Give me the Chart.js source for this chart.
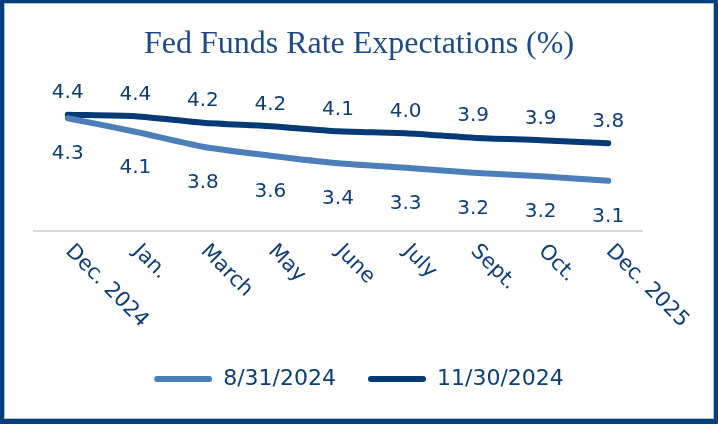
<!DOCTYPE html>
<html>
<head>
<meta charset="utf-8">
<script src="https://cdn.jsdelivr.net/npm/chart.js@4.4.1/dist/chart.umd.min.js"></script>
<style>
html,body{margin:0;padding:0;background:#fff;}
#wrap{position:relative;width:718px;height:424px;}
canvas{display:block;}
</style>
</head>
<body>
<div id="wrap"><canvas id="c" width="718" height="424"></canvas></div>
<script>
// ---- data ----
const categories = ['Dec. 2024', 'Jan.', 'March', 'May', 'June', 'July', 'Sept.', 'Oct.', 'Dec. 2025'];
const seriesNames = ['8/31/2024', '11/30/2024'];
const expectationsAug2024 = [4.33, 4.06, 3.76, 3.58, 3.43, 3.34, 3.24, 3.17, 3.08];
const expectationsNov2024 = [4.40, 4.37, 4.24, 4.17, 4.07, 4.03, 3.94, 3.89, 3.83];
const chartTitle = 'Fed Funds Rate Expectations (%)';

// ---- styles ----
const NAVY_TEXT = '#0c3d79';
const DARK_LINE = '#053a74';
const LIGHT_LINE = '#4c7fb9';
const SANS = '"DejaVu Sans", Verdana, sans-serif';

const framePlugin = {
  id: 'frame',
  afterDraw(chart) {
    const ctx = chart.ctx, w = chart.width, h = chart.height;
    ctx.save();
    ctx.fillStyle = '#063f7c';
    ctx.fillRect(0, 0, w, 3);
    ctx.fillRect(0, 0, 4, h);
    ctx.fillRect(w - 4, 0, 4, h);
    ctx.fillRect(0, h - 5, w, 5);
    ctx.strokeStyle = '#aac0da';
    ctx.lineWidth = 1;
    ctx.strokeRect(4.5, 3.5, w - 9, h - 9);
    ctx.restore();
  }
};

const valueLabelPlugin = {
  id: 'valueLabels',
  afterDatasetsDraw(chart, args, opts) {
    const ctx = chart.ctx;
    ctx.save();
    ctx.font = opts.font;
    ctx.fillStyle = opts.color;
    ctx.textAlign = 'center';
    ctx.textBaseline = 'middle';
    chart.data.datasets.forEach((ds, i) => {
      const meta = chart.getDatasetMeta(i);
      const off = opts.offsets[i];
      meta.data.forEach((pt, j) => {
        ctx.fillText(ds.data[j].toFixed(1), pt.x, pt.y + off);
      });
    });
    ctx.restore();
  }
};

const rotatedTickPlugin = {
  id: 'rotatedTicks',
  afterDraw(chart, args, opts) {
    const xs = chart.scales.x;
    const ctx = chart.ctx;
    ctx.save();
    ctx.font = opts.font;
    ctx.fillStyle = opts.color;
    ctx.textAlign = 'left';
    ctx.textBaseline = 'alphabetic';
    chart.data.labels.forEach((lab, i) => {
      const x = xs.getPixelForTick(i);
      ctx.save();
      ctx.translate(x + opts.dx, xs.top + opts.dy);
      ctx.rotate(Math.PI / 4);
      ctx.fillText(lab, 0, 0);
      ctx.restore();
    });
    ctx.restore();
  }
};

new Chart(document.getElementById('c'), {
  type: 'line',
  data: {
    labels: categories,
    datasets: [
      {
        label: seriesNames[0],
        data: expectationsAug2024,
        borderColor: LIGHT_LINE,
        backgroundColor: LIGHT_LINE,
        borderWidth: 6,
        borderCapStyle: 'round',
        borderJoinStyle: 'round',
        pointRadius: 0,
        tension: 0.25,
        yAxisID: 'y'
      },
      {
        label: seriesNames[1],
        data: expectationsNov2024,
        borderColor: DARK_LINE,
        backgroundColor: DARK_LINE,
        borderWidth: 6,
        borderCapStyle: 'round',
        borderJoinStyle: 'round',
        pointRadius: 0,
        tension: 0.25,
        yAxisID: 'y'
      }
    ]
  },
  options: {
    responsive: false,
    animation: false,
    devicePixelRatio: 1,
    layout: { padding: { top: 4, left: 4, right: 4, bottom: 24 } },
    scales: {
      x: {
        type: 'category',
        offset: true,
        grid: { display: false },
        border: { display: true, color: '#d9d9d9', width: 2 },
        ticks: { display: false },
        afterFit(s) { s.height = 105.3; }
      },
      y: {
        min: 2.08,
        max: 5.1,
        position: 'left',
        grid: { display: false },
        border: { display: false },
        ticks: { display: false },
        afterFit(s) { s.width = 30; }
      },
      yR: {
        type: 'linear',
        position: 'right',
        grid: { display: false },
        border: { display: false },
        ticks: { display: false },
        afterFit(s) { s.width = 72; }
      }
    },
    plugins: {
      title: {
        display: true,
        text: chartTitle,
        color: '#1b4a86',
        font: { family: '"Liberation Serif", "Times New Roman", serif', size: 32, weight: 'normal', lineHeight: 1.2 },
        padding: { top: 21.5, bottom: 15.8 }
      },
      legend: {
        display: true,
        position: 'bottom',
        labels: {
          color: NAVY_TEXT,
          font: { family: SANS, size: 22 },
          boxWidth: 58,
          boxHeight: 6,
          padding: 32,
          generateLabels(chart) {
            return chart.data.datasets.map((ds, i) => ({
              text: ds.label,
              fillStyle: ds.borderColor,
              strokeStyle: ds.borderColor,
              lineWidth: 0,
              borderRadius: 3,
              fontColor: NAVY_TEXT,
              hidden: !chart.isDatasetVisible(i),
              datasetIndex: i
            }));
          }
        }
      },
      tooltip: { enabled: false },
      valueLabels: { font: '20px ' + SANS, color: NAVY_TEXT, offsets: [35.6, -21.6] },
      rotatedTicks: { font: '21px ' + SANS, color: NAVY_TEXT, dx: -3, dy: 21.3 }
    }
  },
  plugins: [valueLabelPlugin, rotatedTickPlugin, framePlugin]
});
</script>
</body>
</html>
